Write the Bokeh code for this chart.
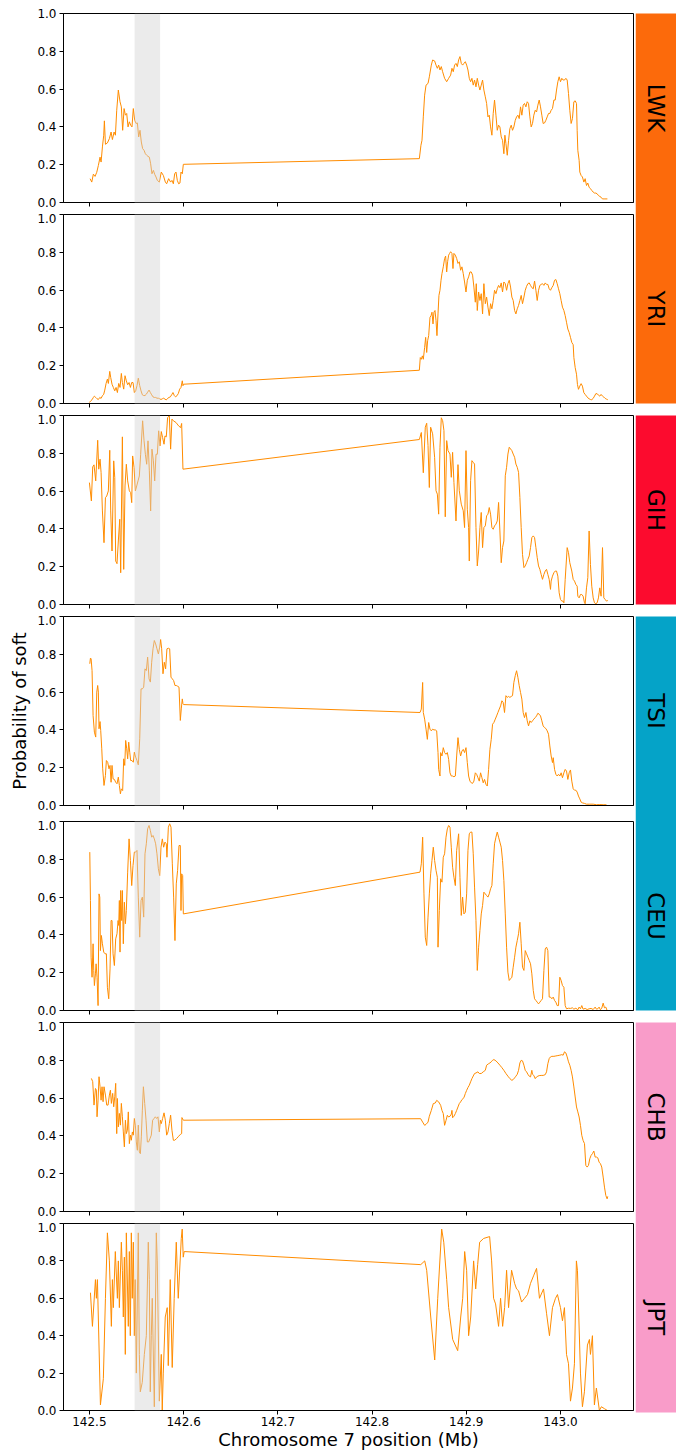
import math
from bokeh.plotting import figure
from bokeh.models import Range1d, FixedTicker, NumeralTickFormatter, BoxAnnotation, CustomLabelingPolicy
from bokeh.layouts import column, row
from bokeh.embed import file_html
from bokeh.resources import INLINE
from bokeh.core.properties import value

# ---------------- data (position in Mb, probability of soft sweep) ----------------
POPS = ["LWK", "YRI", "GIH", "TSI", "CEU", "CHB", "JPT"]

LWK = [(142.5007,.126),(142.5025,.108),(142.5042,.150),(142.5060,.138),(142.5078,.160),(142.5095,.196),(142.5113,.240),(142.5124,.214),(142.5138,.294),(142.5152,.356),(142.5159,.432),(142.5170,.308),(142.5191,.315),(142.5212,.338),(142.5230,.373),(142.5244,.333),(142.5262,.373),(142.5276,.356),(142.5290,.488),(142.5307,.595),(142.5325,.533),(142.5339,.506),(142.5353,.382),(142.5368,.497),(142.5382,.462),(142.5396,.471),(142.5410,.400),(142.5424,.427),(142.5438,.409),(142.5452,.400),(142.5466,.497),(142.5481,.435),(142.5495,.418),(142.5509,.421),(142.5523,.347),(142.5537,.382),(142.5551,.320),(142.5565,.285),(142.5580,.276),(142.5594,.258),(142.5608,.250),(142.5622,.244),(142.5636,.240),(142.5650,.205),(142.5664,.152),(142.5679,.170),(142.5693,.149),(142.5707,.135),(142.5721,.117),(142.5742,.108),(142.5763,.161),(142.5785,.143),(142.5806,.108),(142.5820,.099),(142.5841,.126),(142.5862,.108),(142.5876,.117),(142.5891,.099),(142.5905,.152),(142.5919,.161),(142.5933,.117),(142.5947,.099),(142.5961,.103),(142.5972,.161),(142.5986,.152),(142.5997,.202),
       (142.8502,.232),(142.8519,.303),(142.8530,.329),(142.8544,.453),(142.8558,.568),(142.8573,.621),(142.8594,.630),(142.8608,.665),(142.8629,.727),(142.8643,.754),(142.8664,.749),(142.8679,.727),(142.8693,.710),(142.8707,.727),(142.8721,.701),(142.8735,.719),(142.8749,.692),(142.8770,.657),(142.8792,.639),(142.8813,.657),(142.8834,.674),(142.8848,.710),(142.8862,.692),(142.8876,.727),(142.8891,.736),(142.8905,.719),(142.8919,.754),(142.8933,.772),(142.8947,.736),(142.8961,.727),(142.8975,.736),(142.8990,.745),(142.9004,.727),(142.9018,.701),(142.9032,.657),(142.9046,.639),(142.9060,.657),(142.9074,.621),(142.9088,.648),(142.9103,.612),(142.9117,.657),(142.9131,.621),(142.9145,.595),(142.9159,.621),(142.9173,.648),(142.9187,.595),(142.9202,.559),(142.9216,.524),(142.9230,.453),(142.9244,.462),(142.9258,.400),(142.9272,.356),(142.9286,.471),(142.9300,.542),(142.9315,.462),(142.9329,.382),(142.9343,.409),(142.9357,.400),(142.9371,.347),(142.9385,.329),(142.9399,.258),(142.9410,.356),(142.9421,.312),(142.9435,.250),(142.9449,.329),(142.9463,.391),(142.9477,.409),(142.9491,.382),(142.9505,.400),(142.9520,.435),(142.9534,.453),(142.9548,.462),(142.9562,.444),(142.9576,.506),(142.9590,.462),(142.9604,.515),(142.9618,.524),(142.9633,.506),(142.9647,.533),(142.9661,.524),(142.9675,.453),(142.9689,.400),(142.9703,.418),(142.9717,.462),(142.9732,.488),(142.9746,.479),(142.9760,.515),(142.9774,.542),(142.9788,.506),(142.9802,.462),(142.9816,.418),(142.9831,.421),(142.9845,.435),(142.9859,.453),(142.9873,.471),(142.9887,.471),(142.9901,.488),(142.9915,.497),(142.9930,.542),(142.9944,.542),(142.9958,.595),(142.9972,.639),(142.9986,.665),(143.0000,.639),(143.0014,.657),(143.0028,.648),(143.0043,.648),(143.0057,.657),(143.0071,.648),(143.0085,.577),(143.0099,.488),(143.0113,.418),(143.0127,.444),(143.0142,.533),(143.0156,.538),(143.0170,.524),(143.0177,.382),(143.0184,.276),(143.0198,.223),(143.0205,.161),(143.0219,.143),(143.0233,.135),(143.0248,.108),(143.0262,.126),(143.0276,.090),(143.0290,.103),(143.0304,.081),(143.0318,.073),(143.0332,.064),(143.0347,.055),(143.0361,.050),(143.0375,.050),(143.0389,.046),(143.0403,.037),(143.0417,.032),(143.0431,.028),(143.0445,.019),(143.0463,.019),(143.0498,.019)]

YRI = [(142.5000,.005),(142.5014,.014),(142.5028,.020),(142.5042,.032),(142.5053,.039),(142.5067,.032),(142.5081,.025),(142.5095,.021),(142.5110,.032),(142.5124,.027),(142.5138,.041),(142.5152,.049),(142.5163,.071),(142.5177,.106),(142.5191,.129),(142.5201,.106),(142.5216,.170),(142.5226,.138),(142.5240,.102),(142.5254,.085),(142.5269,.067),(142.5283,.085),(142.5297,.058),(142.5311,.106),(142.5325,.085),(142.5339,.159),(142.5350,.111),(142.5364,.076),(142.5378,.147),(142.5392,.120),(142.5406,.099),(142.5421,.111),(142.5435,.085),(142.5449,.111),(142.5463,.111),(142.5477,.058),(142.5491,.067),(142.5505,.094),(142.5519,.134),(142.5534,.094),(142.5548,.067),(142.5562,.046),(142.5576,.042),(142.5590,.042),(142.5604,.049),(142.5618,.060),(142.5633,.071),(142.5647,.058),(142.5661,.046),(142.5675,.035),(142.5689,.032),(142.5703,.032),(142.5717,.028),(142.5732,.028),(142.5746,.025),(142.5760,.021),(142.5774,.025),(142.5788,.028),(142.5802,.023),(142.5816,.019),(142.5830,.027),(142.5845,.032),(142.5859,.035),(142.5873,.046),(142.5887,.058),(142.5901,.042),(142.5915,.035),(142.5929,.041),(142.5944,.053),(142.5958,.076),(142.5972,.085),(142.5986,.120),(142.5993,.094),(142.6000,.102),
       (142.8502,.176),(142.8512,.243),(142.8523,.234),(142.8534,.252),(142.8544,.234),(142.8558,.297),(142.8569,.350),(142.8580,.270),(142.8590,.332),(142.8601,.359),(142.8615,.456),(142.8626,.465),(142.8636,.483),(142.8647,.421),(142.8657,.483),(142.8668,.492),(142.8679,.439),(142.8689,.359),(142.8700,.474),(142.8710,.572),(142.8721,.599),(142.8732,.652),(142.8742,.687),(142.8756,.723),(142.8770,.767),(142.8781,.780),(142.8792,.696),(142.8802,.750),(142.8813,.785),(142.8823,.794),(142.8834,.803),(142.8848,.794),(142.8859,.714),(142.8869,.794),(142.8884,.785),(142.8898,.767),(142.8912,.741),(142.8926,.750),(142.8940,.705),(142.8954,.723),(142.8968,.687),(142.8982,.643),(142.8997,.590),(142.9011,.652),(142.9025,.670),(142.9039,.696),(142.9053,.696),(142.9067,.679),(142.9081,.616),(142.9096,.536),(142.9106,.634),(142.9117,.492),(142.9131,.590),(142.9145,.545),(142.9159,.581),(142.9173,.474),(142.9187,.634),(142.9202,.528),(142.9216,.563),(142.9230,.510),(142.9244,.465),(142.9258,.528),(142.9272,.501),(142.9286,.545),(142.9300,.599),(142.9315,.581),(142.9329,.607),(142.9343,.625),(142.9357,.613),(142.9371,.638),(142.9385,.590),(142.9399,.643),(142.9414,.634),(142.9428,.599),(142.9442,.634),(142.9456,.652),(142.9470,.616),(142.9484,.563),(142.9498,.545),(142.9513,.492),(142.9527,.474),(142.9541,.501),(142.9555,.519),(142.9569,.545),(142.9583,.572),(142.9597,.528),(142.9612,.563),(142.9626,.599),(142.9640,.620),(142.9654,.634),(142.9668,.638),(142.9682,.625),(142.9696,.613),(142.9711,.607),(142.9725,.648),(142.9739,.599),(142.9753,.545),(142.9767,.599),(142.9781,.625),(142.9795,.630),(142.9809,.634),(142.9824,.625),(142.9838,.638),(142.9852,.630),(142.9866,.630),(142.9880,.607),(142.9894,.599),(142.9908,.613),(142.9923,.625),(142.9937,.652),(142.9951,.656),(142.9965,.634),(142.9979,.607),(142.9993,.581),(143.0007,.545),(143.0021,.510),(143.0036,.492),(143.0050,.465),(143.0064,.430),(143.0078,.394),(143.0092,.376),(143.0106,.350),(143.0120,.323),(143.0135,.311),(143.0142,.243),(143.0156,.190),(143.0170,.155),(143.0180,.101),(143.0191,.075),(143.0205,.092),(143.0219,.105),(143.0233,.092),(143.0248,.057),(143.0262,.048),(143.0276,.039),(143.0290,.030),(143.0304,.025),(143.0318,.021),(143.0332,.020),(143.0347,.027),(143.0361,.039),(143.0375,.052),(143.0389,.052),(143.0403,.044),(143.0417,.039),(143.0431,.048),(143.0446,.039),(143.0460,.034),(143.0474,.027),(143.0488,.023),(143.0502,.020)]

GIH = [(142.5000,.645),(142.5021,.548),(142.5035,.728),(142.5049,.739),(142.5067,.654),(142.5088,.869),(142.5099,.716),(142.5113,.769),(142.5124,.698),(142.5138,.495),(142.5155,.327),(142.5170,.565),(142.5184,.574),(142.5201,.601),(142.5216,.816),(142.5226,.495),(142.5240,.283),(142.5258,.760),(142.5269,.671),(142.5279,.230),(142.5293,.216),(142.5307,.336),(142.5322,.451),(142.5332,.168),(142.5350,.887),(142.5364,.186),(142.5378,.627),(142.5392,.742),(142.5406,.654),(142.5424,.601),(142.5438,.592),(142.5449,.539),(142.5459,.786),(142.5474,.724),(142.5488,.601),(142.5502,.627),(142.5516,.654),(142.5530,.680),(142.5544,.795),(142.5565,.972),(142.5580,.866),(142.5594,.795),(142.5608,.742),(142.5622,.866),(142.5636,.707),(142.5650,.495),(142.5664,.822),(142.5679,.760),(142.5693,.654),(142.5707,.795),(142.5721,.795),(142.5735,.919),(142.5749,.839),(142.5763,.915),(142.5777,.883),(142.5792,.848),(142.5802,.892),(142.5816,.887),(142.5830,.989),(142.5848,.998),(142.5862,.822),(142.5876,.981),(142.5891,.972),(142.5919,.963),(142.5947,.945),(142.5968,.936),(142.5979,.958),(142.5993,.716),
       (142.8502,.873),(142.8523,.910),(142.8544,.697),(142.8565,.938),(142.8580,.959),(142.8594,.841),(142.8608,.619),(142.8622,.938),(142.8643,.903),(142.8664,.779),(142.8679,.602),(142.8693,.584),(142.8707,.478),(142.8721,.832),(142.8735,.988),(142.8749,.973),(142.8763,.920),(142.8777,.464),(142.8792,.867),(142.8806,.814),(142.8827,.796),(142.8841,.673),(142.8855,.805),(142.8869,.646),(142.8891,.442),(142.8912,.740),(142.8926,.602),(142.8947,.531),(142.8968,.496),(142.8982,.407),(142.8997,.814),(142.9011,.504),(142.9025,.407),(142.9032,.230),(142.9046,.655),(142.9060,.761),(142.9074,.752),(142.9088,.743),(142.9103,.407),(142.9117,.204),(142.9131,.283),(142.9145,.407),(142.9159,.487),(142.9173,.301),(142.9187,.407),(142.9202,.416),(142.9216,.469),(142.9230,.478),(142.9244,.513),(142.9258,.478),(142.9272,.407),(142.9286,.398),(142.9300,.416),(142.9315,.425),(142.9329,.442),(142.9343,.540),(142.9357,.389),(142.9371,.221),(142.9385,.301),(142.9399,.336),(142.9414,.681),(142.9428,.726),(142.9442,.796),(142.9456,.832),(142.9470,.823),(142.9484,.814),(142.9498,.796),(142.9513,.779),(142.9527,.743),(142.9541,.726),(142.9555,.699),(142.9569,.566),(142.9583,.407),(142.9597,.265),(142.9612,.195),(142.9626,.204),(142.9640,.221),(142.9654,.239),(142.9668,.257),(142.9682,.301),(142.9696,.354),(142.9711,.363),(142.9725,.354),(142.9739,.301),(142.9753,.248),(142.9767,.204),(142.9781,.186),(142.9795,.159),(142.9809,.133),(142.9824,.159),(142.9838,.177),(142.9852,.186),(142.9866,.159),(142.9880,.133),(142.9894,.080),(142.9901,.124),(142.9915,.150),(142.9930,.168),(142.9944,.177),(142.9958,.177),(142.9972,.150),(142.9986,.062),(143.0000,.027),(143.0014,.018),(143.0028,.018),(143.0036,.009),(143.0050,.133),(143.0071,.301),(143.0085,.274),(143.0099,.221),(143.0120,.177),(143.0135,.133),(143.0149,.124),(143.0163,.106),(143.0177,.097),(143.0184,.044),(143.0198,.035),(143.0212,.053),(143.0226,.053),(143.0240,.044),(143.0255,.009),(143.0262,.004),(143.0276,.088),(143.0290,.142),(143.0304,.389),(143.0318,.212),(143.0332,.097),(143.0347,.035),(143.0361,.009),(143.0375,.004),(143.0389,.009),(143.0403,.035),(143.0417,.088),(143.0431,.044),(143.0446,.301),(143.0460,.035),(143.0474,.027),(143.0488,.018),(143.0502,.021)]

TSI = [(142.5004,.750),(142.5011,.780),(142.5018,.776),(142.5028,.714),(142.5039,.476),(142.5053,.388),(142.5067,.362),(142.5078,.600),(142.5088,.635),(142.5095,.600),(142.5102,.406),(142.5113,.444),(142.5120,.397),(142.5131,.300),(142.5141,.194),(142.5155,.106),(142.5170,.159),(142.5180,.238),(142.5194,.229),(142.5208,.194),(142.5219,.212),(142.5230,.123),(142.5240,.212),(142.5251,.141),(142.5265,.138),(142.5279,.123),(142.5293,.115),(142.5307,.150),(142.5318,.106),(142.5329,.062),(142.5339,.088),(142.5353,.079),(142.5364,.247),(142.5375,.212),(142.5385,.344),(142.5396,.300),(142.5406,.247),(142.5417,.335),(142.5428,.282),(142.5438,.238),(142.5452,.238),(142.5466,.229),(142.5477,.282),(142.5491,.256),(142.5505,.238),(142.5519,.215),(142.5534,.353),(142.5548,.617),(142.5562,.617),(142.5576,.626),(142.5590,.723),(142.5604,.714),(142.5618,.785),(142.5633,.670),(142.5647,.653),(142.5661,.758),(142.5675,.829),(142.5689,.873),(142.5703,.855),(142.5717,.829),(142.5732,.802),(142.5746,.838),(142.5756,.878),(142.5767,.829),(142.5781,.697),(142.5795,.758),(142.5809,.723),(142.5823,.829),(142.5838,.832),(142.5852,.829),(142.5866,.679),(142.5880,.670),(142.5894,.661),(142.5908,.635),(142.5922,.635),(142.5936,.631),(142.5951,.626),(142.5965,.450),(142.5975,.511),(142.5986,.564),(142.5993,.538),(142.6000,.534),
       (142.8509,.492),(142.8523,.510),(142.8537,.651),(142.8544,.492),(142.8558,.457),(142.8573,.404),(142.8587,.350),(142.8601,.439),(142.8615,.404),(142.8629,.395),(142.8643,.404),(142.8657,.400),(142.8671,.400),(142.8686,.395),(142.8700,.280),(142.8707,.191),(142.8721,.156),(142.8728,.280),(142.8742,.262),(142.8756,.306),(142.8770,.280),(142.8785,.271),(142.8799,.280),(142.8813,.244),(142.8827,.173),(142.8841,.156),(142.8855,.156),(142.8869,.152),(142.8884,.156),(142.8898,.262),(142.8912,.359),(142.8926,.297),(142.8940,.262),(142.8954,.288),(142.8968,.297),(142.8982,.280),(142.8997,.306),(142.9011,.227),(142.9025,.156),(142.9039,.129),(142.9053,.120),(142.9067,.117),(142.9081,.129),(142.9096,.173),(142.9110,.165),(142.9124,.147),(142.9138,.129),(142.9152,.173),(142.9166,.147),(142.9180,.120),(142.9194,.138),(142.9209,.112),(142.9223,.103),(142.9237,.191),(142.9251,.297),(142.9265,.350),(142.9279,.430),(142.9293,.439),(142.9308,.457),(142.9322,.474),(142.9336,.492),(142.9350,.510),(142.9364,.527),(142.9378,.554),(142.9392,.545),(142.9406,.492),(142.9421,.581),(142.9435,.572),(142.9449,.577),(142.9463,.572),(142.9477,.577),(142.9491,.581),(142.9505,.651),(142.9520,.687),(142.9534,.713),(142.9548,.678),(142.9562,.634),(142.9576,.598),(142.9590,.563),(142.9604,.492),(142.9618,.465),(142.9633,.492),(142.9647,.448),(142.9661,.421),(142.9675,.448),(142.9689,.439),(142.9703,.448),(142.9717,.457),(142.9732,.465),(142.9746,.474),(142.9760,.488),(142.9774,.483),(142.9788,.474),(142.9802,.448),(142.9816,.421),(142.9831,.412),(142.9845,.407),(142.9859,.395),(142.9873,.377),(142.9887,.315),(142.9901,.262),(142.9915,.227),(142.9923,.253),(142.9937,.191),(142.9951,.165),(142.9965,.156),(142.9979,.165),(142.9993,.156),(143.0007,.173),(143.0021,.147),(143.0036,.173),(143.0050,.191),(143.0064,.182),(143.0078,.138),(143.0092,.173),(143.0106,.188),(143.0120,.129),(143.0135,.088),(143.0149,.081),(143.0163,.081),(143.0177,.071),(143.0191,.050),(143.0205,.035),(143.0219,.018),(143.0233,.014),(143.0255,.011),(143.0276,.007),(143.0311,.007),(143.0347,.007),(143.0382,.004),(143.0417,.005),(143.0453,.004),(143.0488,.004)]

CEU = [(142.5004,.838),(142.5011,.582),(142.5018,.282),(142.5028,.176),(142.5039,.353),(142.5046,.212),(142.5053,.132),(142.5064,.194),(142.5071,.247),(142.5081,.176),(142.5092,.026),(142.5102,.617),(142.5110,.600),(142.5117,.317),(142.5127,.397),(142.5138,.353),(142.5152,.309),(142.5166,.300),(142.5180,.300),(142.5191,.123),(142.5205,.062),(142.5219,.220),(142.5230,.476),(142.5240,.476),(142.5251,.300),(142.5265,.238),(142.5279,.379),(142.5293,.406),(142.5304,.476),(142.5311,.450),(142.5318,.582),(142.5325,.309),(142.5332,.635),(142.5343,.476),(142.5350,.635),(142.5360,.353),(142.5371,.573),(142.5382,.459),(142.5392,.529),(142.5406,.732),(142.5421,.908),(142.5435,.794),(142.5449,.661),(142.5463,.767),(142.5477,.838),(142.5491,.838),(142.5505,.847),(142.5519,.600),(142.5534,.388),(142.5548,.582),(142.5562,.600),(142.5576,.494),(142.5590,.829),(142.5604,.882),(142.5618,.961),(142.5633,.979),(142.5647,.952),(142.5661,.917),(142.5675,.926),(142.5689,.908),(142.5703,.882),(142.5717,.829),(142.5732,.750),(142.5746,.714),(142.5760,.864),(142.5774,.908),(142.5788,.864),(142.5802,.891),(142.5816,.882),(142.5823,.811),(142.5838,.970),(142.5852,.988),(142.5866,.970),(142.5880,.776),(142.5894,.600),(142.5908,.370),(142.5922,.670),(142.5936,.741),(142.5951,.873),(142.5965,.873),(142.5972,.529),(142.5979,.723),(142.5990,.714),(142.5997,.511),
       (142.8509,.732),(142.8523,.776),(142.8537,.917),(142.8551,.617),(142.8565,.388),(142.8580,.344),(142.8594,.494),(142.8608,.617),(142.8622,.723),(142.8636,.794),(142.8650,.864),(142.8664,.794),(142.8679,.741),(142.8693,.705),(142.8700,.335),(142.8714,.529),(142.8728,.697),(142.8742,.679),(142.8756,.811),(142.8770,.829),(142.8785,.917),(142.8799,.961),(142.8813,.979),(142.8827,.970),(142.8841,.864),(142.8855,.758),(142.8869,.705),(142.8884,.661),(142.8898,.847),(142.8919,.935),(142.8933,.705),(142.8947,.503),(142.8961,.600),(142.8975,.511),(142.8990,.520),(142.9004,.617),(142.9018,.847),(142.9032,.935),(142.9046,.944),(142.9060,.944),(142.9074,.829),(142.9088,.653),(142.9103,.476),(142.9117,.212),(142.9131,.335),(142.9145,.423),(142.9159,.511),(142.9173,.556),(142.9187,.626),(142.9202,.617),(142.9216,.608),(142.9230,.600),(142.9244,.617),(142.9258,.644),(142.9272,.661),(142.9286,.776),(142.9300,.882),(142.9315,.917),(142.9329,.944),(142.9343,.917),(142.9357,.891),(142.9371,.864),(142.9385,.794),(142.9399,.688),(142.9414,.511),(142.9428,.335),(142.9442,.203),(142.9456,.159),(142.9470,.168),(142.9484,.176),(142.9498,.229),(142.9513,.282),(142.9527,.335),(142.9541,.370),(142.9555,.406),(142.9569,.467),(142.9583,.353),(142.9597,.229),(142.9612,.212),(142.9626,.317),(142.9640,.300),(142.9654,.282),(142.9668,.265),(142.9682,.247),(142.9696,.194),(142.9711,.106),(142.9725,.062),(142.9739,.053),(142.9753,.044),(142.9767,.035),(142.9781,.044),(142.9795,.053),(142.9809,.062),(142.9824,.212),(142.9838,.326),(142.9852,.335),(142.9866,.317),(142.9880,.071),(142.9894,.071),(142.9908,.062),(142.9923,.071),(142.9937,.053),(142.9951,.044),(142.9965,.026),(142.9979,.026),(142.9993,.176),(143.0007,.159),(143.0021,.132),(143.0036,.123),(143.0050,.026),(143.0064,.009),(143.0085,.012),(143.0106,.011),(143.0127,.014),(143.0142,.007),(143.0163,.012),(143.0184,.004),(143.0198,.018),(143.0212,.009),(143.0226,.026),(143.0240,.007),(143.0262,.011),(143.0283,.005),(143.0304,.009),(143.0325,.011),(143.0347,.005),(143.0368,.018),(143.0382,.007),(143.0396,.009),(143.0410,.018),(143.0424,.004),(143.0438,.012),(143.0453,.039),(143.0467,.014),(143.0481,.018),(143.0495,.000)]

CHB = [(142.5021,.704),(142.5035,.687),(142.5049,.563),(142.5064,.651),(142.5074,.642),(142.5081,.501),(142.5092,.589),(142.5102,.713),(142.5113,.660),(142.5124,.589),(142.5134,.660),(142.5145,.581),(142.5155,.660),(142.5170,.616),(142.5184,.563),(142.5198,.563),(142.5212,.616),(142.5223,.642),(142.5233,.572),(142.5247,.625),(142.5258,.554),(142.5269,.607),(142.5279,.678),(142.5290,.412),(142.5297,.598),(142.5307,.448),(142.5318,.519),(142.5329,.457),(142.5339,.572),(142.5350,.501),(142.5360,.421),(142.5371,.342),(142.5382,.483),(142.5392,.412),(142.5403,.430),(142.5413,.527),(142.5424,.359),(142.5435,.404),(142.5445,.377),(142.5456,.421),(142.5466,.404),(142.5477,.492),(142.5488,.457),(142.5498,.368),(142.5509,.324),(142.5519,.457),(142.5530,.315),(142.5541,.306),(142.5551,.395),(142.5562,.536),(142.5573,.660),(142.5587,.572),(142.5601,.483),(142.5615,.368),(142.5629,.368),(142.5643,.386),(142.5657,.404),(142.5671,.483),(142.5686,.492),(142.5700,.501),(142.5714,.492),(142.5728,.501),(142.5742,.421),(142.5753,.483),(142.5763,.465),(142.5777,.492),(142.5792,.522),(142.5806,.483),(142.5820,.404),(142.5834,.421),(142.5848,.465),(142.5862,.510),(142.5876,.430),(142.5891,.377),(142.5905,.377),(142.5926,.386),(142.5947,.398),(142.5968,.409),(142.5979,.412),(142.5982,.497),(142.5997,.483),
       (142.8516,.491),(142.8537,.473),(142.8558,.456),(142.8573,.461),(142.8594,.473),(142.8608,.504),(142.8629,.535),(142.8650,.571),(142.8671,.574),(142.8686,.588),(142.8707,.580),(142.8728,.562),(142.8742,.535),(142.8756,.518),(142.8770,.456),(142.8785,.482),(142.8799,.509),(142.8813,.500),(142.8827,.504),(142.8841,.515),(142.8848,.535),(142.8855,.496),(142.8869,.504),(142.8884,.518),(142.8898,.535),(142.8912,.553),(142.8926,.571),(142.8940,.580),(142.8954,.592),(142.8975,.602),(142.8990,.624),(142.9004,.641),(142.9018,.656),(142.9032,.668),(142.9046,.686),(142.9060,.703),(142.9074,.717),(142.9088,.730),(142.9103,.733),(142.9124,.739),(142.9138,.730),(142.9159,.730),(142.9180,.739),(142.9202,.747),(142.9216,.774),(142.9237,.782),(142.9251,.786),(142.9265,.792),(142.9279,.800),(142.9293,.804),(142.9315,.797),(142.9336,.786),(142.9357,.774),(142.9378,.761),(142.9399,.747),(142.9421,.730),(142.9442,.716),(142.9463,.703),(142.9484,.694),(142.9498,.698),(142.9513,.707),(142.9527,.716),(142.9541,.726),(142.9555,.747),(142.9569,.786),(142.9583,.800),(142.9597,.797),(142.9612,.774),(142.9626,.747),(142.9640,.739),(142.9654,.726),(142.9668,.716),(142.9682,.712),(142.9696,.747),(142.9703,.726),(142.9717,.720),(142.9732,.703),(142.9746,.712),(142.9760,.716),(142.9774,.719),(142.9795,.720),(142.9816,.720),(142.9838,.724),(142.9852,.739),(142.9866,.782),(142.9880,.809),(142.9894,.818),(142.9908,.821),(142.9930,.821),(142.9951,.823),(142.9972,.825),(142.9993,.827),(143.0014,.830),(143.0028,.827),(143.0043,.845),(143.0057,.839),(143.0071,.818),(143.0085,.792),(143.0099,.774),(143.0113,.747),(143.0127,.712),(143.0142,.659),(143.0156,.606),(143.0170,.553),(143.0184,.527),(143.0198,.500),(143.0212,.456),(143.0226,.403),(143.0240,.376),(143.0255,.359),(143.0269,.244),(143.0283,.235),(143.0297,.244),(143.0311,.279),(143.0325,.297),(143.0339,.306),(143.0354,.320),(143.0368,.288),(143.0382,.288),(143.0396,.284),(143.0410,.261),(143.0424,.253),(143.0438,.235),(143.0453,.182),(143.0467,.129),(143.0481,.085),(143.0495,.067),(143.0502,.080)]

JPT = [(142.5011,.63),(142.5032,.45),(142.5064,.70),(142.5074,.60),(142.5085,.70),(142.5117,.03),(142.5148,.17),(142.5170,.60),(142.5191,.95),(142.5212,.80),(142.5233,.45),(142.5244,.70),(142.5254,.55),(142.5275,.85),(142.5297,.60),(142.5307,.80),(142.5318,.55),(142.5339,.90),(142.5350,.75),(142.5360,.50),(142.5371,.82),(142.5381,.30),(142.5392,.95),(142.5413,.45),(142.5424,.85),(142.5434,.40),(142.5445,.95),(142.5455,.60),(142.5466,.90),(142.5477,.40),(142.5487,.70),(142.5498,.20),(142.5519,.95),(142.5530,.30),(142.5540,.10),(142.5561,.15),(142.5583,.30),(142.5604,.40),(142.5625,.90),(142.5636,.70),(142.5646,.10),(142.5657,.40),(142.5667,.60),(142.5689,.02),(142.5710,.95),(142.5720,.80),(142.5742,.05),(142.5763,.30),(142.5773,.00),(142.5784,.20),(142.5805,.50),(142.5826,.55),(142.5837,.24),(142.5858,.70),(142.5879,.23),(142.5900,.60),(142.5922,.90),(142.5943,.60),(142.5975,.92),(142.5985,.97),(142.5996,.82),(142.6006,.85),
       (142.8517,.78),(142.8559,.80),(142.8580,.75),(142.8623,.50),(142.8665,.27),(142.8697,.60),(142.8739,.97),(142.8761,.90),(142.8792,.70),(142.8813,.55),(142.8856,.38),(142.8909,.32),(142.8941,.50),(142.8962,.60),(142.8983,.85),(142.9004,.75),(142.9025,.40),(142.9047,.50),(142.9078,.80),(142.9100,.65),(142.9121,.78),(142.9142,.90),(142.9184,.92),(142.9248,.93),(142.9269,.80),(142.9290,.60),(142.9311,.57),(142.9343,.45),(142.9364,.60),(142.9386,.45),(142.9407,.55),(142.9428,.75),(142.9449,.55),(142.9481,.75),(142.9513,.68),(142.9534,.65),(142.9555,.64),(142.9587,.58),(142.9619,.60),(142.9650,.62),(142.9682,.68),(142.9714,.72),(142.9746,.76),(142.9777,.60),(142.9820,.65),(142.9852,.52),(142.9883,.40),(142.9915,.55),(142.9947,.60),(142.9968,.62),(143.0000,.55),(143.0021,.48),(143.0042,.55),(143.0064,.30),(143.0085,.25),(143.0106,.05),(143.0127,.12),(143.0148,.25),(143.0169,.80),(143.0180,.75),(143.0212,.20),(143.0233,.02),(143.0254,.10),(143.0286,.35),(143.0307,.38),(143.0318,.30),(143.0339,.40),(143.0360,.03),(143.0381,.12),(143.0413,.00),(143.0434,.02),(143.0466,.01),(143.0498,.00)]

SERIES = {"LWK": LWK, "YRI": YRI, "GIH": GIH, "TSI": TSI, "CEU": CEU, "CHB": CHB, "JPT": JPT}

GROUPS = [(["LWK", "YRI"], "#fc6a0b"),
          (["GIH"], "#fc0b2e"),
          (["TSI", "CEU"], "#05a3c8"),
          (["CHB", "JPT"], "#f99cc9")]

X_TICKS = [142.5, 142.6, 142.7, 142.8, 142.9, 143.0]
Y_TICKS = [0.0, 0.2, 0.4, 0.6, 0.8, 1.0]
SWEEP = (142.548, 142.575)
X_LABEL = "Chromosome 7 position (Mb)"
Y_LABEL = "Probability of soft"

# ---------------- layout / style ----------------
FONT = "DejaVu Sans"
LINE_COLOR = "#ff8c00"
FRAME_H = 189
LEFT = 63
PANEL_W = 635
RIGHT_PAD = 2
BAR_W = 41
TOP_PAD = [13, 1, 1, 1, 1, 1, 1]
BOT_PAD = [11, 11, 11, 15, 11, 11, 40]

# tick marks only (no tick labels) on the shared x axis of the upper panels
NO_LABELS = CustomLabelingPolicy(code="""
for (const i of Array.from(indices)) { indices.unset(i) }
return indices
""")

xr = Range1d(142.4725, 143.0775)
panels = []
frame_rows = []
y0 = 0
n = len(POPS)
for i, pop in enumerate(POPS):
    h = TOP_PAD[i] + FRAME_H + BOT_PAD[i]
    p = figure(width=PANEL_W, height=h, x_range=xr, y_range=Range1d(0, 1),
               output_backend="svg", toolbar_location=None,
               min_border_left=LEFT, min_border_right=RIGHT_PAD,
               min_border_top=TOP_PAD[i], min_border_bottom=BOT_PAD[i])
    p.xgrid.visible = False
    p.ygrid.visible = False
    p.outline_line_color = "black"
    p.outline_line_width = 1
    p.background_fill_color = "white"
    p.border_fill_color = "white"

    p.xaxis.ticker = FixedTicker(ticks=X_TICKS)
    p.yaxis.ticker = FixedTicker(ticks=Y_TICKS)
    p.xaxis.formatter = NumeralTickFormatter(format="0.0")
    p.yaxis.formatter = NumeralTickFormatter(format="0.0")
    for ax in (p.xaxis[0], p.yaxis[0]):
        ax.major_tick_out = 4
        ax.major_tick_in = 0
        ax.minor_tick_out = 0
        ax.minor_tick_in = 0
        ax.axis_line_color = "black"
        ax.major_tick_line_color = "black"
        ax.major_label_text_font = FONT
        ax.major_label_text_font_size = "12px"
        ax.major_label_text_color = "black"
        ax.major_label_standoff = 3
        ax.axis_label_text_font = FONT
        ax.axis_label_text_font_style = "normal"
        ax.axis_label_text_font_size = "18px"
        ax.axis_label_text_color = "black"
    if i < n - 1:
        p.xaxis.major_label_policy = NO_LABELS
        p.xaxis.major_label_text_font_size = "1px"
        p.xaxis.major_label_standoff = 0
    else:
        p.xaxis.axis_label = X_LABEL
        p.xaxis.axis_label_standoff = 0
        p.xaxis.major_label_standoff = 2
    if pop == "TSI":
        p.yaxis.axis_label = Y_LABEL
        p.yaxis.axis_label_standoff = 4

    xs = [pt[0] for pt in SERIES[pop]]
    ys = [pt[1] for pt in SERIES[pop]]
    p.line(xs, ys, line_color=LINE_COLOR, line_width=1)

    band_top = 1 + TOP_PAD[i] / FRAME_H if i > 0 else 1.0
    band_bottom = -BOT_PAD[i] / FRAME_H if i < n - 1 else 0.0
    p.add_layout(BoxAnnotation(left=SWEEP[0], right=SWEEP[1], top=band_top, bottom=band_bottom,
                               fill_color="#d3d3d3", fill_alpha=0.45, line_color=None))

    frame_rows.append((y0 + TOP_PAD[i], y0 + TOP_PAD[i] + FRAME_H))
    y0 += h
    panels.append(p)

total_h = y0
bar = figure(width=BAR_W, height=total_h, x_range=Range1d(0, 1), y_range=Range1d(total_h, 0),
             output_backend="svg", toolbar_location=None, min_border=0,
             x_axis_type=None, y_axis_type=None)
bar.outline_line_color = None
bar.background_fill_color = "white"
bar.border_fill_color = "white"
for members, color in GROUPS:
    idx = [POPS.index(m) for m in members]
    bar.quad(left=[0], right=[1], top=[frame_rows[idx[0]][0]], bottom=[frame_rows[idx[-1]][1]],
             fill_color=color, line_color=None)
bar.text(x=[0.5] * n, y=[(t + b) / 2 for t, b in frame_rows], text=POPS,
         angle=-math.pi / 2, text_align="center", text_baseline="middle",
         text_font=value(FONT), text_font_size="23px", text_color="black")

layout = row(column(*panels, spacing=0), bar, spacing=0)
open("out.html", "w").write(file_html(layout, INLINE, title="soft sweep probability"))
